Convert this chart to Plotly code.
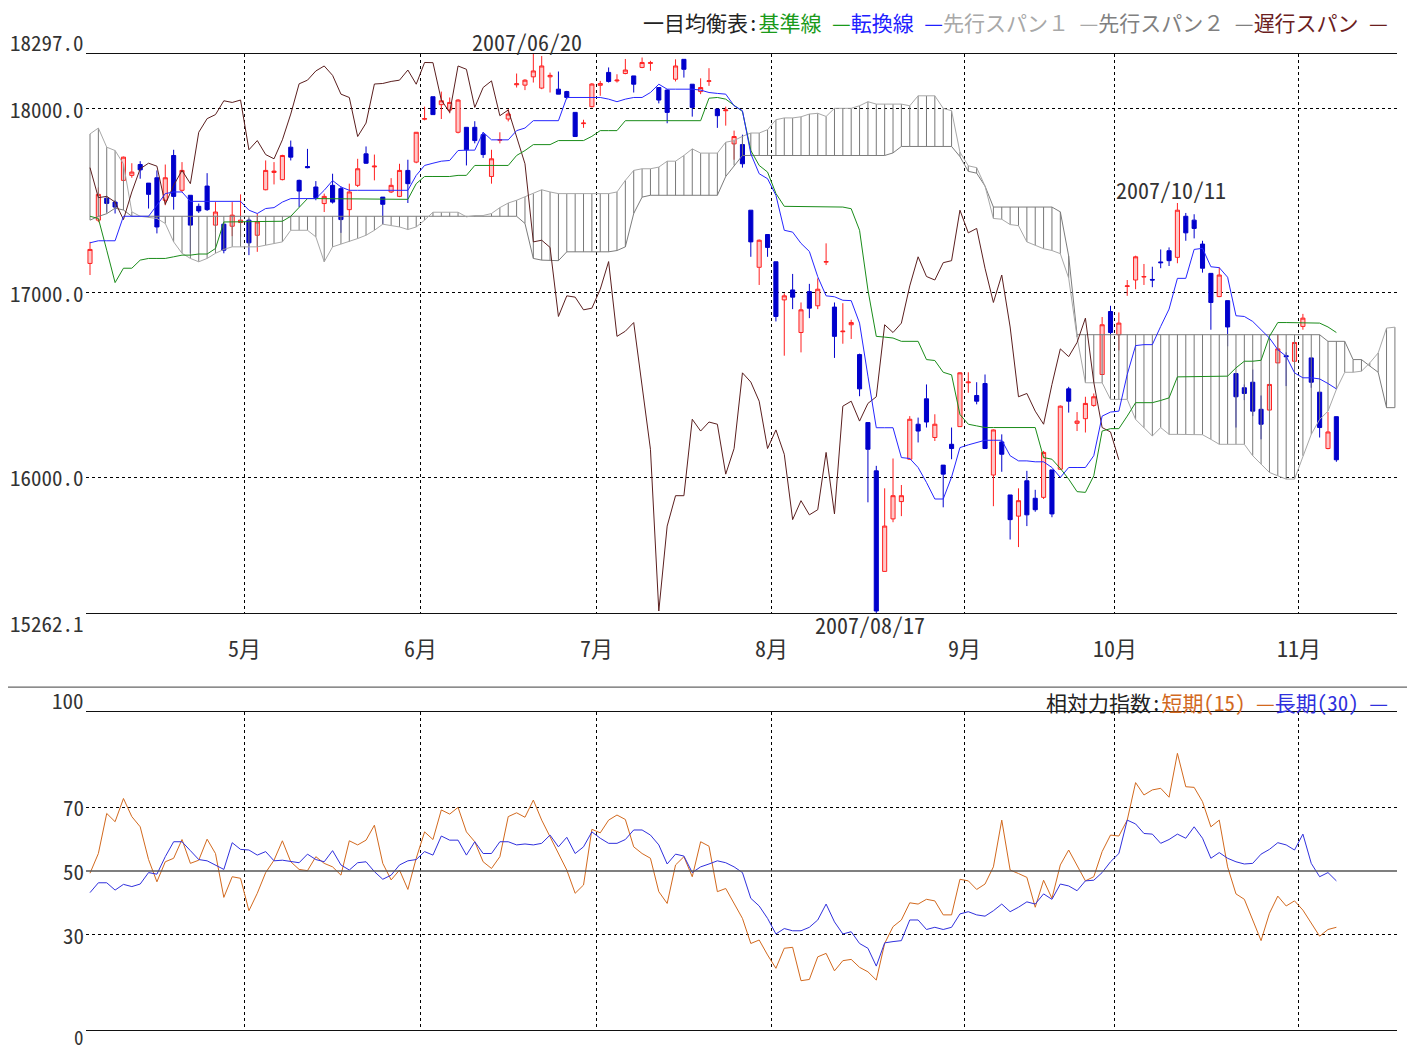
import plotly.graph_objects as go

# ---------------- data ----------------
open_ = [17160, 17395, 17514, 17493, 17611, 17638, 17697, 17596, 17625, 17503,
         17746, 17557, 17530, 17470, 17580, 17368, 17373, 17362, 17382, 17395,
         17313, 17560, 17654, 17615, 17791, 17611, 17686, 17575, 17485, 17584,
         17566, 17452, 17584, 17755, 17684, 17520, 17548, 17524, 17665, 17710,
         17943, 18065, 18022, 17993, 17872, 17899, 17899, 17859, 17632, 17829,
         17944, 18130, 18128, 18173, 18112, 18173, 18106, 18093, 17980, 17919,
         18011, 18127, 18197, 18151, 18191, 18178, 18224, 18246, 18115, 18101,
         18160, 18268, 18133, 18093, 18149, 17998, 17989, 17809, 17805, 17449,
         17139, 17317, 17169, 16962, 17016, 16785, 17007, 16930, 17167, 16923,
         16789, 16827, 16665, 16296, 16034, 15488, 15773, 15867, 16097, 16287,
         16425, 16215, 16065, 16178, 16274, 16512, 16443, 16508, 16011, 16191,
         15903, 15788, 15980, 15885, 15890, 16039, 16043, 16479, 16292, 16317,
         16389, 16557, 16899, 16773, 17035, 17070, 17086, 17073, 17168, 17229,
         17193, 17416, 17395, 17265, 17106, 16980, 16958, 16562, 16485, 16515,
         16368, 16364, 16620, 16659, 16629, 16818, 16647, 16461, 16155, 16328]

high = [17277, 17573, 17524, 17503, 17740, 17704, 17715, 17596, 17665, 17697,
        17777, 17710, 17530, 17485, 17650, 17493, 17377, 17493, 17535, 17404,
        17431, 17719, 17710, 17750, 17827, 17615, 17782, 17607, 17539, 17647,
        17578, 17593, 17728, 17795, 17751, 17520, 17623, 17701, 17723, 17872,
        18011, 18065, 18093, 18061, 18052, 17899, 17932, 17872, 17777, 17872,
        17998, 18191, 18160, 18297, 18286, 18196, 18202, 18097, 17980, 17940,
        18139, 18151, 18224, 18187, 18270, 18178, 18278, 18260, 18115, 18106,
        18268, 18268, 18133, 18165, 18220, 17998, 18011, 17881, 17859, 17449,
        17290, 17317, 17169, 16998, 17103, 16948, 17049, 17079, 17269, 16948,
        16944, 16854, 16670, 16296, 16061, 15939, 16101, 15957, 16331, 16323,
        16503, 16341, 16065, 16269, 16569, 16569, 16515, 16557, 16259, 16232,
        15903, 15939, 16034, 15931, 16142, 16039, 16389, 16490, 16353, 16436,
        16454, 16869, 16930, 16894, 17070, 17202, 17157, 17142, 17236, 17247,
        17488, 17434, 17427, 17283, 17106, 17139, 16958, 16562, 16503, 16584,
        16443, 16507, 16773, 16677, 16737, 16886, 16647, 16461, 16353, 16328]

low = [17097, 17384, 17438, 17431, 17605, 17625, 17620, 17458, 17323, 17476,
       17452, 17548, 17215, 17434, 17445, 17331, 17215, 17308, 17304, 17205,
       17223, 17557, 17589, 17611, 17719, 17466, 17676, 17503, 17439, 17485,
       17326, 17412, 17575, 17701, 17611, 17373, 17542, 17520, 17488, 17704,
       17937, 17968, 17944, 17975, 17866, 17692, 17812, 17733, 17593, 17812,
       17931, 18115, 18101, 18142, 18106, 18088, 18079, 18052, 17849, 17896,
       18007, 18070, 18142, 18142, 18187, 18088, 18220, 18206, 18029, 17921,
       18148, 18169, 17957, 18079, 18124, 17896, 17908, 17723, 17680, 17196,
       17043, 17196, 16845, 16659, 16912, 16677, 16863, 16912, 17151, 16647,
       16724, 16750, 16439, 15863, 15262.1, 15488, 15755, 15788, 16094, 16188,
       16269, 16196, 15836, 16097, 16274, 16458, 16395, 16155, 15842, 16029,
       15661, 15620, 15734, 15812, 15881, 15782, 16039, 16350, 16250, 16242,
       16382, 16557, 16764, 16688, 16984, 17020, 17043, 17031, 17134, 17146,
       17161, 17283, 17296, 17110, 16800, 16977, 16710, 16269, 16418, 16331,
       16205, 16359, 16620, 16494, 16623, 16800, 16485, 16215, 16151, 16083]

close = [17236, 17535, 17486, 17466, 17737, 17656, 17668, 17535, 17358, 17625,
         17524, 17665, 17368, 17445, 17452, 17439, 17232, 17422, 17395, 17272,
         17385, 17665, 17661, 17746, 17737, 17553, 17680, 17517, 17524, 17493,
         17398, 17548, 17674, 17704, 17688, 17481, 17584, 17665, 17593, 17872,
         17946, 17968, 18043, 18034, 18047, 17777, 17827, 17751, 17728, 17831,
         17971, 18135, 18155, 18205, 18232, 18181, 18079, 18061, 17849, 17922,
         18134, 18137, 18148, 18155, 18210, 18133, 18251, 18250, 18047, 17980,
         18232, 18214, 18007, 18115, 18151, 17962, 17993, 17849, 17701, 17277,
         17286, 17247, 16872, 16984, 16977, 16908, 16917, 17020, 17170, 16764,
         16792, 16839, 16479, 16151, 15273, 15734, 15899, 15899, 16314, 16250,
         16299, 16287, 16016, 16155, 16566, 16516, 16412, 16155, 16256, 16124,
         15769, 15872, 15795, 15823, 16134, 15800, 16385, 16412, 16304, 16400,
         16436, 16827, 16785, 16836, 17038, 17196, 17089, 17070, 17164, 17175,
         17449, 17326, 17350, 17134, 16948, 17097, 16815, 16436, 16454, 16358,
         16287, 16503, 16696, 16654, 16731, 16863, 16515, 16269, 16245, 16094]

tenkan = [17272, 17283, 17283, 17283, 17416, 17416, 17416, 17416, 17476, 17539,
          17548, 17548, 17497, 17497, 17497, 17497, 17497, 17497, 17497, 17449,
          17431, 17458, 17463, 17493, 17512, 17512, 17512, 17512, 17557, 17610,
          17575, 17557, 17557, 17557, 17557, 17557, 17557, 17557, 17557, 17638,
          17692, 17704, 17715, 17719, 17773, 17775, 17775, 17872, 17831, 17831,
          17831, 17881, 17895, 17935, 17935, 17935, 17935, 18061, 18061, 18061,
          18061, 18061, 18052, 18038, 18052, 18061, 18061, 18088, 18133, 18106,
          18106, 18106, 18106, 18101, 18088, 18083, 18079, 18016, 17989, 17755,
          17647, 17620, 17530, 17340, 17330, 17269, 17225, 17088, 16984, 16979,
          16960, 16958, 16836, 16548, 16268, 16268, 16268, 16106, 16101, 16052,
          15971, 15881, 15881, 16000, 16160, 16175, 16188, 16200, 16200, 16200,
          16116, 16088, 16088, 16083, 16083, 16052, 15998, 16052, 16052, 16052,
          16116, 16331, 16353, 16358, 16557, 16714, 16719, 16719, 16818, 16912,
          17079, 17079, 17236, 17242, 17142, 17137, 17085, 16876, 16872, 16845,
          16800, 16755, 16692, 16656, 16566, 16539, 16539, 16533, 16508, 16479]

kijun = [17416, 17404, 17232, 17056, 17134, 17134, 17178, 17187, 17187, 17187,
         17196, 17205, 17205, 17211, 17211, 17241, 17385, 17385, 17385, 17385,
         17385, 17385, 17389, 17389, 17416, 17466, 17512, 17512, 17512, 17512,
         17512, 17508, 17508, 17508, 17508, 17508, 17508, 17508, 17508, 17593,
         17632, 17632, 17632, 17632, 17638, 17638, 17692, 17692, 17692, 17692,
         17692, 17746, 17773, 17805, 17805, 17805, 17827, 17827, 17827, 17827,
         17850, 17881, 17881, 17881, 17935, 17935, 17935, 17935, 17935, 17935,
         17935, 17935, 17935, 17935, 18057, 18061, 18052, 18016, 17985, 17773,
         17692, 17656, 17540, 17470, 17470, 17470, 17470, 17470, 17470, 17470,
         17466, 17457, 17340, 17016, 16764, 16760, 16755, 16737, 16737, 16737,
         16638, 16633, 16569, 16555, 16340, 16287, 16278, 16269, 16269, 16269,
         16269, 16269, 16269, 16269, 16106, 16097, 16047, 15989, 15921, 15917,
         16007, 16250, 16263, 16263, 16331, 16404, 16404, 16404, 16416, 16430,
         16544, 16544, 16544, 16544, 16544, 16544, 16548, 16593, 16629, 16629,
         16634, 16764, 16839, 16839, 16839, 16839, 16839, 16836, 16815, 16785]

span1 = [17863, 17895, 17791, 17773, 17700, 17440, 17416, 17410, 17404, 17377,
         17277, 17215, 17187, 17169, 17187, 17215, 17236, 17250, 17250, 17250,
         17250, 17259, 17268, 17277, 17340, 17340, 17340, 17304, 17169, 17250,
         17265, 17277, 17295, 17313, 17340, 17373, 17367, 17358, 17344, 17358,
         17395, 17438, 17438, 17438, 17438, 17413, 17420, 17420, 17431, 17463,
         17488, 17503, 17521, 17539, 17560, 17548, 17539, 17539, 17539, 17539,
         17539, 17539, 17539, 17548, 17611, 17665, 17674, 17674, 17683, 17715,
         17715, 17746, 17782, 17759, 17759, 17759, 17818, 17827, 17850, 17868,
         17868, 17886, 17940, 17950, 17950, 17956, 17971, 17975, 17958, 18002,
         18002, 18002, 18016, 18038, 18025, 18025, 18025, 18025, 18016, 18070,
         18070, 18070, 18002, 17989, 17764, 17690, 17680, 17580, 17404, 17400,
         17371, 17365, 17277, 17259, 17240, 17230, 17213, 17080, 16760, 16512,
         16512, 16512, 16422, 16422, 16422, 16313, 16268, 16223, 16269, 16232,
         16232, 16232, 16230, 16230, 16205, 16178, 16178, 16178, 16178, 16116,
         16070, 16025, 16007, 15989, 15989, 16116, 16232, 16313, 16358, 16476,
         16569, 16569, 16575, 16620, 16674, 16809, 16814]

span2 = [17395, 17415, 17430, 17460, 17450, 17416, 17416, 17416, 17416, 17416,
         17416, 17416, 17416, 17416, 17416, 17416, 17416, 17416, 17416, 17416,
         17416, 17416, 17416, 17416, 17416, 17416, 17416, 17416, 17416, 17416,
         17416, 17416, 17416, 17416, 17416, 17416, 17416, 17416, 17416, 17416,
         17416, 17416, 17416, 17416, 17416, 17416, 17416, 17416, 17416, 17416,
         17416, 17416, 17377, 17187, 17178, 17178, 17175, 17223, 17223, 17223,
         17223, 17223, 17223, 17230, 17250, 17431, 17520, 17530, 17530, 17530,
         17530, 17530, 17530, 17530, 17530, 17530, 17632, 17692, 17746, 17746,
         17746, 17746, 17746, 17746, 17746, 17746, 17746, 17746, 17746, 17746,
         17746, 17746, 17746, 17746, 17746, 17746, 17760, 17795, 17795, 17795,
         17795, 17795, 17795, 17795, 17740, 17660, 17650, 17580, 17466, 17466,
         17466, 17466, 17466, 17466, 17466, 17466, 17440, 17200, 16773, 16773,
         16773, 16773, 16773, 16773, 16773, 16773, 16773, 16773, 16773, 16773,
         16773, 16773, 16773, 16773, 16773, 16773, 16773, 16773, 16773, 16773,
         16773, 16773, 16773, 16773, 16773, 16773, 16773, 16773, 16737, 16737,
         16737, 16638, 16638, 16603, 16569, 16377, 16377]

rsi_short = [49.3, 55.5, 68.1, 65.5, 72.8, 67.1, 63.9, 53.6, 46.6, 52.9,
             54.0, 59.9, 52.4, 53.4, 60.0, 55.5, 41.7, 48.2, 47.7, 37.5,
             43.0, 49.5, 53.4, 59.5, 52.9, 50.5, 50.1, 54.5, 52.4, 51.3,
             48.7, 59.5, 58.2, 59.7, 64.4, 52.4, 47.2, 50.3, 44.2, 54.0,
             62.3, 59.9, 69.2, 67.9, 70.0, 62.3, 59.2, 52.9, 50.8, 54.5,
             67.1, 68.3, 66.9, 72.3, 66.0, 60.8, 55.5, 50.3, 43.0, 45.6,
             63.1, 62.0, 66.0, 67.6, 66.2, 57.6, 55.5, 54.0, 43.5, 39.8,
             51.9, 54.5, 48.2, 59.2, 57.8, 43.5, 44.5, 39.8, 35.1, 27.2,
             28.3, 23.6, 19.4, 25.7, 26.0, 15.5, 15.9, 23.0, 24.1, 18.6,
             21.8, 22.2, 19.7, 18.3, 15.7, 27.2, 32.5, 34.6, 40.0, 39.6,
             41.1, 40.6, 36.2, 36.2, 47.4, 46.9, 44.2, 45.9, 51.3, 66.0,
             50.3, 49.2, 48.0, 38.6, 47.1, 41.4, 51.9, 56.6, 51.9, 46.9,
             48.2, 56.1, 61.3, 61.0, 66.0, 77.8, 73.9, 75.5, 76.0, 73.2,
             87.0, 76.5, 76.3, 71.8, 63.9, 66.0, 51.3, 42.8, 41.1, 34.6,
             28.1, 36.7, 42.1, 39.0, 40.6, 37.7, 33.5, 29.5, 31.6, 32.3]

rsi_long = [43.2, 46.3, 46.3, 44.0, 45.8, 45.1, 45.9, 49.5, 49.0, 54.5,
            59.2, 59.2, 56.4, 53.6, 53.2, 51.9, 50.5, 58.9, 56.8, 56.6,
            55.0, 56.1, 53.2, 53.4, 52.9, 52.6, 55.3, 53.6, 52.9, 56.4,
            51.9, 50.3, 52.6, 52.9, 49.8, 47.4, 48.7, 51.9, 53.2, 53.6,
            56.1, 55.0, 61.0, 59.7, 59.7, 55.0, 59.2, 55.5, 55.5, 59.2,
            59.2, 58.2, 58.5, 58.2, 58.7, 61.3, 57.6, 60.6, 55.5, 57.6,
            62.3, 60.3, 58.7, 58.7, 59.9, 62.9, 62.9, 61.3, 58.2, 52.2,
            55.3, 54.7, 49.5, 51.3, 52.2, 53.2, 52.6, 51.3, 49.5, 41.4,
            39.0, 35.1, 30.2, 31.9, 31.2, 31.2, 32.3, 34.6, 39.6, 34.0,
            30.2, 30.9, 27.2, 25.7, 20.1, 27.4, 27.8, 28.1, 34.6, 34.6,
            31.6, 32.3, 31.6, 32.3, 36.5, 37.2, 36.2, 35.8, 37.5, 39.6,
            37.2, 38.6, 40.3, 39.6, 42.8, 41.1, 45.9, 45.3, 43.8, 46.9,
            47.1, 49.5, 52.9, 55.5, 66.0, 64.8, 61.8, 61.6, 58.7, 59.9,
            61.6, 60.3, 63.9, 60.3, 54.0, 55.8, 54.0, 52.9, 52.2, 52.4,
            55.3, 56.8, 58.9, 58.2, 56.6, 61.6, 52.4, 48.2, 49.5, 46.9]

month_first = [19, 40, 61, 82, 105, 123, 145]          # index of first trading day
month_labels = ["5月", "6月", "7月", "8月", "9月", "10月", "11月"]
price_grid = [16000.0, 17000.0, 18000.0]
price_min, price_max = 15262.1, 18297.0
rsi_grid = [30, 70]
rsi_labels = [0, 30, 50, 70, 100]
marks = [(53, "2007/06/20", "high"), (94, "2007/08/17", "low"), (130, "2007/10/11", "high")]
LAG = 26

# ---------------- figure ----------------
FONT = "Noto Sans Mono CJK JP, Noto Sans CJK JP, sans-serif"
idx = list(range(len(close)))
cloud_idx = list(range(len(span1)))
grid_x = [m - 0.5 for m in month_first]
xr = [-0.478, 156.25]

fig = go.Figure()

# cloud hatch
hx, hy = [], []
for i, (a, b) in enumerate(zip(span1, span2)):
    hx += [i, i, None]
    hy += [a, b, None]
fig.add_trace(go.Scatter(x=hx, y=hy, mode="lines", line=dict(color="#787878", width=1),
                         hoverinfo="skip", showlegend=False))
fig.add_trace(go.Scatter(x=cloud_idx, y=span2, mode="lines", line=dict(color="#7c7c7c", width=1),
                         name="先行スパン２", showlegend=False))
fig.add_trace(go.Scatter(x=cloud_idx, y=span1, mode="lines", line=dict(color="#a8a8a8", width=1),
                         name="先行スパン１", showlegend=False))
# lagging span
fig.add_trace(go.Scatter(x=[i - LAG for i in idx[LAG:]], y=close[LAG:], mode="lines",
                         line=dict(color="#5b1f1f", width=1), name="遅行スパン", showlegend=False))
fig.add_trace(go.Scatter(x=idx, y=kijun, mode="lines", line=dict(color="#1a8c1a", width=1),
                         name="基準線", showlegend=False))
fig.add_trace(go.Scatter(x=idx, y=tenkan, mode="lines", line=dict(color="#2626ff", width=1),
                         name="転換線", showlegend=False))
fig.add_trace(go.Candlestick(x=idx, open=open_, high=high, low=low, close=close,
                             increasing=dict(line=dict(color="#ff2020", width=1), fillcolor="#ffc8c8"),
                             decreasing=dict(line=dict(color="#0000cc", width=1), fillcolor="#0000cc"),
                             whiskerwidth=0, showlegend=False, xaxis="x", yaxis="y"))

# RSI
fig.add_trace(go.Scatter(x=idx, y=rsi_short, mode="lines", line=dict(color="#d2691e", width=1),
                         xaxis="x2", yaxis="y2", showlegend=False))
fig.add_trace(go.Scatter(x=idx, y=rsi_long, mode="lines", line=dict(color="#3030dd", width=1),
                         xaxis="x2", yaxis="y2", showlegend=False))

axis_common = dict(showgrid=True, gridcolor="#000000", gridwidth=1, griddash="3px,3px",
                   zeroline=False, ticks="", showticklabels=False)

# the page body has an 8px margin, so the figure is 8px smaller and its margins 8px tighter
fig.update_layout(
    width=1407, height=1042,
    margin=dict(l=78, r=18, t=46, b=20),
    paper_bgcolor="white", plot_bgcolor="white",
    showlegend=False,
    font=dict(family=FONT, size=22, color="#333333"),
    xaxis=dict(domain=[0, 1], anchor="y", range=xr, tickvals=grid_x,
               showline=True, mirror=True, linecolor="#111111", linewidth=1,
               rangeslider=dict(visible=False), **axis_common),
    yaxis=dict(domain=[0.42725, 1.0], range=[price_min, price_max], tickvals=price_grid,
               showline=False, **axis_common),
    xaxis2=dict(domain=[0, 1], anchor="y2", range=xr, tickvals=grid_x, matches="x",
                showline=True, mirror=True, linecolor="#111111", linewidth=1, **axis_common),
    yaxis2=dict(domain=[0, 0.32582], range=[0, 100], tickvals=rsi_grid,
                showline=False, **axis_common),
)

shapes = [
    dict(type="line", xref="x2 domain", yref="y2", x0=0, x1=1, y0=50, y1=50,
         line=dict(color="#555555", width=1.5)),
    dict(type="line", xref="paper", yref="paper", x0=(5 - 86) / 1311, x1=(1410 - 86) / 1311,
         y0=0.3514, y1=0.3514, line=dict(color="#666666", width=1.2)),
]
fig.update_layout(shapes=shapes)

ann = []
def ylab(text, y, yref, shift=0, size=21):
    ann.append(dict(text=text, x=0, xref="paper", xanchor="right", y=y, yref=yref,
                    yanchor="middle", yshift=shift, showarrow=False, xshift=0,
                    font=dict(family=FONT, size=size, color="#333333")))

ylab(f"{price_max:.1f}", price_max, "y", 12)
for v in price_grid:
    ylab(f"{v:.1f}", v, "y", 0)
ylab(f"{price_min:.1f}", price_min, "y", -10)
for v in rsi_labels:
    if v == 100:
        ylab(str(v), v, "y2", 12)
    elif v == 0:
        ylab(str(v), v, "y2", -7, 19)
    else:
        ylab(str(v), v, "y2", 0)

for gx, lab in zip(grid_x, month_labels):
    ann.append(dict(text=lab, x=gx, xref="x", y=0.3924, yref="paper", xanchor="center",
                    yanchor="middle", showarrow=False,
                    font=dict(family=FONT, size=22, color="#333333")))

for i, lab, kind in marks:
    if kind == "high":
        yv, sh = high[i], 14
        if high[i] >= price_max - 1:
            sh = 13
    else:
        yv, sh = low[i], -11
    ann.append(dict(text=lab, x=i, xref="x", y=yv, yref="y", xanchor="center", yanchor="middle",
                    xshift=-6, yshift=sh, showarrow=False,
                    font=dict(family=FONT, size=22, color="#333333")))

legend_top = ("一目均衡表:"
              "<span style='color:#1a9a1a'>基準線 —</span>"
              "<span style='color:#2020ff'>転換線 —</span>"
              "<span style='color:#a8a8a8'>先行スパン１ —</span>"
              "<span style='color:#808080'>先行スパン２ —</span>"
              "<span style='color:#6b1e1e'>遅行スパン —</span>")
ann.append(dict(text=legend_top, x=(1390 - 86) / 1311, xref="paper", xanchor="right",
                y=1.0328, yref="paper", yanchor="middle", showarrow=False,
                font=dict(family=FONT, size=21, color="#222222")))
legend_rsi = ("相対力指数:"
              "<span style='color:#d2691e'>短期(15) —</span>"
              "<span style='color:#3030dd'>長期(30) —</span>")
ann.append(dict(text=legend_rsi, x=(1390 - 86) / 1311, xref="paper", xanchor="right",
                y=0.336, yref="paper", yanchor="middle", showarrow=False,
                font=dict(family=FONT, size=21, color="#222222")))

fig.update_layout(annotations=ann)
fig.write_html("out.html")
